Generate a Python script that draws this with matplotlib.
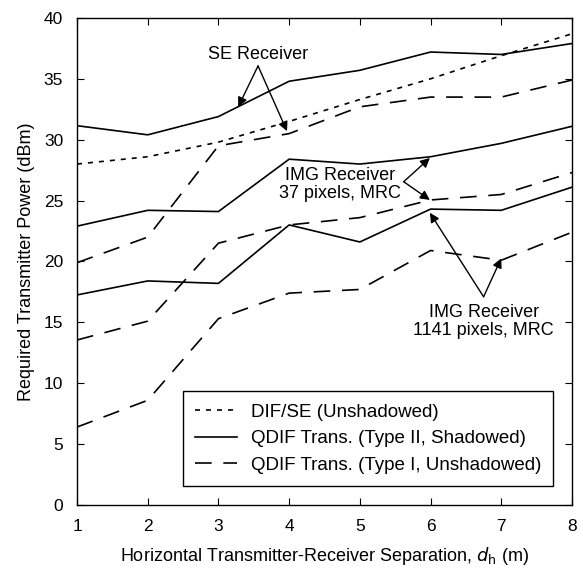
import numpy as np
import matplotlib.pyplot as plt

plt.rcParams['font.family'] = ['Liberation Sans', 'DejaVu Sans']

# separation distance (m)
d = [1, 2, 3, 4, 5, 6, 7, 8]

# DIF / SE receiver (unshadowed)
dif_se = [28.0, 28.6, 29.8, 31.5, 33.3, 35.0, 36.9, 38.7]

# QDIF Type II (shadowed)
q2_se = [31.15, 30.4, 31.9, 34.8, 35.7, 37.2, 37.0, 37.9]
q2_img37 = [22.9, 24.2, 24.1, 28.4, 28.0, 28.6, 29.7, 31.1]
q2_img1141 = [17.25, 18.4, 18.2, 23.0, 21.6, 24.3, 24.2, 26.1]

# QDIF Type I (unshadowed)
q1_se = [19.9, 22.0, 29.5, 30.5, 32.7, 33.5, 33.5, 34.9]
q1_img37 = [13.55, 15.1, 21.5, 23.0, 23.6, 25.05, 25.5, 27.3]
q1_img1141 = [6.4, 8.6, 15.3, 17.4, 17.7, 20.9, 20.1, 22.4]

fig = plt.figure(figsize=(5.83, 5.73), dpi=100)
ax = fig.add_axes([0.1321, 0.1187, 0.849, 0.85])

lw = 1.2
dot = (0, (3, 3.6))
dash = (0, (10, 7))

ax.plot(d, dif_se, color='black', lw=lw, ls=dot, label='DIF/SE (Unshadowed)')
ax.plot(d, q2_se, color='black', lw=lw, ls='-', label='QDIF Trans. (Type II, Shadowed)')
ax.plot(d, q1_se, color='black', lw=lw, ls=dash, label='QDIF Trans. (Type I, Unshadowed)')
ax.plot(d, q2_img37, color='black', lw=lw, ls='-')
ax.plot(d, q1_img37, color='black', lw=lw, ls=dash)
ax.plot(d, q2_img1141, color='black', lw=lw, ls='-')
ax.plot(d, q1_img1141, color='black', lw=lw, ls=dash)

arrow = dict(arrowstyle='-|>', color='black', lw=1.0, mutation_scale=14, shrinkA=0, shrinkB=0)

# SE receiver annotation
ax.text(3.56, 37.0, 'SE Receiver', ha='center', va='center', fontsize=13)
ax.annotate('', xy=(3.28, 32.7), xytext=(3.56, 36.06), arrowprops=arrow)
ax.annotate('', xy=(3.97, 30.7), xytext=(3.56, 36.06), arrowprops=arrow)

# IMG 37 pixels annotation
ax.text(4.72, 26.3, 'IMG Receiver\n37 pixels, MRC', ha='center', va='center',
        fontsize=13, linespacing=1.05)
ax.annotate('', xy=(5.99, 28.5), xytext=(5.62, 26.55), arrowprops=arrow)
ax.annotate('', xy=(5.99, 25.05), xytext=(5.62, 26.55), arrowprops=arrow)

# IMG 1141 pixels annotation
ax.text(6.75, 15.07, 'IMG Receiver\n1141 pixels, MRC', ha='center', va='center',
        fontsize=13, linespacing=1.05)
ax.annotate('', xy=(5.99, 24.0), xytext=(6.75, 17.1), arrowprops=arrow)
ax.annotate('', xy=(7.0, 20.26), xytext=(6.75, 17.1), arrowprops=arrow)

ax.set_xlim(1, 8)
ax.set_ylim(0, 40)
ax.set_xticks(d)
ax.set_yticks(np.arange(0, 41, 5))
ax.tick_params(direction='in', top=True, right=True, length=5, width=0.8,
               labelsize=12.5, pad=10)
for s in ax.spines.values():
    s.set_linewidth(1.0)

ax.set_xlabel('Horizontal Transmitter-Receiver Separation, $d_{\\mathrm{h}}$ (m)', fontsize=13, labelpad=8)
ax.set_ylabel('Required Transmitter Power (dBm)', fontsize=13, labelpad=6)

leg = ax.legend(loc='lower right', bbox_to_anchor=(0.962, 0.039), fontsize=13.5,
                frameon=True, fancybox=False, edgecolor='black', framealpha=1,
                handlelength=2.2, handletextpad=0.75, borderpad=0.65,
                labelspacing=0.5, borderaxespad=0)
leg.get_frame().set_linewidth(1.0)

fig.savefig('out.png', dpi=100)
